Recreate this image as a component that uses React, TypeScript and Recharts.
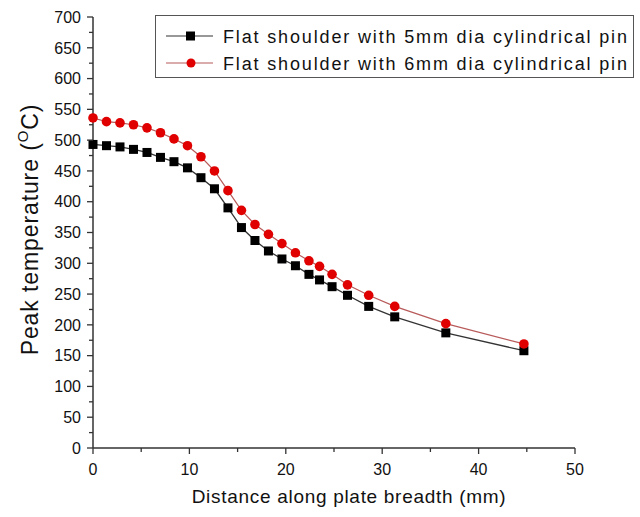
import React from 'react';
import { LineChart, Line, XAxis, YAxis, Label } from 'recharts';

const xs = [0, 1.4, 2.8, 4.2, 5.6, 7, 8.4, 9.8, 11.2, 12.6, 14, 15.4, 16.8, 18.2, 19.6, 21, 22.4, 23.5, 24.8, 26.4, 28.6, 31.3, 36.6, 44.7];
const pin5mm = [493, 491, 489, 485, 480, 472, 465, 455, 439, 421, 390, 358, 337, 320, 307, 296, 282, 273, 262, 248, 230, 213, 187, 158];
const pin6mm = [536, 530, 528, 525, 520, 512, 502, 491, 473, 450, 418, 386, 363, 347, 332, 317, 304, 295, 282, 265, 248, 230, 202, 169];
const xTicks = [0, 5, 10, 15, 20, 25, 30, 35, 40, 45, 50];
const yTicks = Array.from({ length: 29 }, (_, i) => i * 25);
const seriesNames = ['Flat shoulder with 5mm dia cylindrical pin', 'Flat shoulder with 6mm dia cylindrical pin'];

const data = xs.map((x, i) => ({ x, a: pin5mm[i], b: pin6mm[i] }));

const FONT = '"Liberation Sans", Arial, sans-serif';
const AXIS = '#333';
const RED = '#e00000';
const REDLINE = '#b85a5a';

const XTick = (props: any) => {
  const { x, y, payload } = props;
  const major = payload.value % 10 === 0;
  return (
    <g>
      <line x1={x} x2={x} y1={y} y2={y + (major ? 6 : 4)} stroke={AXIS} strokeWidth={1.3} />
      {major && (
        <text x={x} y={y + 27} textAnchor="middle" fontSize={16} fontFamily={FONT} fill="#111">
          {payload.value}
        </text>
      )}
    </g>
  );
};

const YTick = (props: any) => {
  const { x, y, payload } = props;
  const major = payload.value % 50 === 0;
  return (
    <g>
      <line x1={x - (major ? 6 : 4)} x2={x} y1={y} y2={y} stroke={AXIS} strokeWidth={1.3} />
      {major && (
        <text x={x - 12} y={y} dy="0.36em" textAnchor="end" fontSize={16} fontFamily={FONT} fill="#111">
          {payload.value}
        </text>
      )}
    </g>
  );
};

const SquareDot = (props: any) => {
  const { cx, cy, index } = props;
  if (cx == null || cy == null) return <g key={`s${index}`} />;
  return <rect key={`s${index}`} x={cx - 4.5} y={cy - 4.5} width={9} height={9} fill="#000" />;
};

const CircleDot = (props: any) => {
  const { cx, cy, index } = props;
  if (cx == null || cy == null) return <g key={`c${index}`} />;
  return <circle key={`c${index}`} cx={cx} cy={cy} r={4.8} fill={RED} />;
};

const LegendBox = () => (
  <div
    style={{
      position: 'absolute',
      left: 155,
      top: 15,
      width: 477,
      height: 61,
      border: '1px solid #555',
      background: '#fff',
      boxSizing: 'content-box',
      fontFamily: FONT,
    }}
  >
    <svg width={477} height={61} style={{ display: 'block' }}>
      <line x1={10} x2={57} y1={20} y2={20} stroke="#333" strokeWidth={1.2} />
      <rect x={30} y={15.5} width={9} height={9} fill="#000" />
      <text x={67} y={26.5} fontSize={18} letterSpacing={1.85} fill="#111" fontFamily={FONT}>
        {seriesNames[0]}
      </text>
      <line x1={10} x2={57} y1={47} y2={47} stroke={REDLINE} strokeWidth={1.2} />
      <circle cx={35} cy={47} r={4.5} fill={RED} />
      <text x={67} y={53.5} fontSize={18} letterSpacing={1.85} fill="#111" fontFamily={FONT}>
        {seriesNames[1]}
      </text>
    </svg>
  </div>
);

const YLabel = (props: any) => {
  const vb = props.viewBox || { x: 0, y: 17, width: 93, height: 431 };
  const cx = vb.x + 32;
  const cy = vb.y + vb.height / 2 - 3;
  return (
    <text
      x={cx}
      y={cy}
      transform={`rotate(-90, ${cx}, ${cy})`}
      textAnchor="middle"
      dominantBaseline="middle"
      fontSize={23}
      letterSpacing={0.9}
      fontFamily={FONT}
      fill="#111"
    >
      Peak temperature (
      <tspan dy={-8} fontSize={15}>O</tspan>
      <tspan dy={8}>C)</tspan>
    </text>
  );
};

const XLabel = (props: any) => {
  const vb = props.viewBox || { x: 93, y: 448, width: 482, height: 69 };
  return (
    <text
      x={vb.x + vb.width / 2 + 15}
      y={vb.y + 55}
      textAnchor="middle"
      fontSize={19}
      letterSpacing={0.7}
      fontFamily={FONT}
      fill="#111"
    >
      Distance along plate breadth (mm)
    </text>
  );
};

export default function App() {
  return (
    <div style={{ position: 'absolute', left: 0, top: 0, width: 640, height: 517, background: '#fff' }}>
      <LineChart width={640} height={517} data={data} margin={{ top: 17, right: 65, bottom: 0, left: 0 }}>
        <XAxis
          type="number"
          dataKey="x"
          domain={[0, 50]}
          ticks={xTicks}
          interval={0}
          height={69}
          tickSize={0}
          tickMargin={0}
          tick={<XTick />}
          axisLine={{ stroke: AXIS, strokeWidth: 1.5 }}
          tickLine={false}
        >
          <Label content={<XLabel />} />
        </XAxis>
        <YAxis
          type="number"
          domain={[0, 700]}
          ticks={yTicks}
          interval={0}
          width={93}
          tickSize={0}
          tickMargin={0}
          tick={<YTick />}
          axisLine={{ stroke: AXIS, strokeWidth: 1.5 }}
          tickLine={false}
        >
          <Label content={<YLabel />} />
        </YAxis>
        <Line
          dataKey="a"
          name={seriesNames[0]}
          stroke="#333"
          strokeWidth={1.3}
          dot={<SquareDot />}
          isAnimationActive={false}
        />
        <Line
          dataKey="b"
          name={seriesNames[1]}
          stroke={REDLINE}
          strokeWidth={1.2}
          dot={<CircleDot />}
          isAnimationActive={false}
        />
      </LineChart>
      <LegendBox />
    </div>
  );
}
